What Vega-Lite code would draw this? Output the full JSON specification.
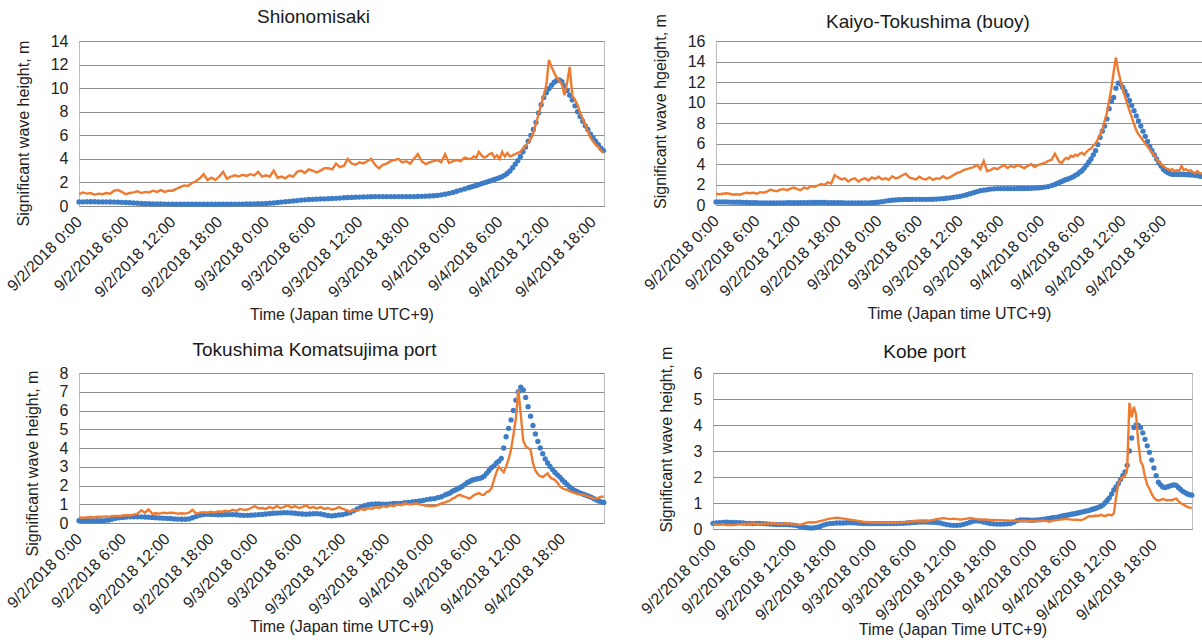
{
"$schema": "https://vega.github.io/schema/vega-lite/v6.json",
"padding": {"left": 3, "top": 7, "right": 0, "bottom": 0},
"spacing": 17,
"config": {
 "font": "Liberation Sans",
 "view": {"stroke": "#bdbdbd"},
 "title": {"font": "Liberation Sans", "fontSize": 19, "fontWeight": "normal", "color": "#1a1a1a", "frame": "group", "anchor": "middle"},
 "axis": {"labelFont": "Liberation Sans", "titleFont": "Liberation Sans", "labelFontSize": 16, "titleFontSize": 16, "titleFontWeight": "normal", "labelColor": "#222222", "titleColor": "#222222", "gridColor": "#8e8e8e", "domainColor": "#8c8c8c", "ticks": false},
 "axisX": {"labelAngle": -45, "labelAlign": "right", "labelBaseline": "middle", "labelPadding": 13, "grid": false, "labelFlush": false, "labelOverlap": false, "titlePadding": 6, "labelExpr": "'9/' + (2 + floor(datum.value / 24)) + '/2018 ' + (datum.value % 24) + ':00'"},
 "axisY": {"domain": false, "grid": true, "labelPadding": 11, "titlePadding": 19}
},
"datasets": {
"shio": [
{"h":0,"o":1.0,"m":0.35},{"h":0.5,"o":1.15,"m":0.35},{"h":1,"o":1.05,"m":0.36},{"h":1.5,"o":1.1,"m":0.36},{"h":2,"o":0.95,"m":0.36},{"h":2.5,"o":1.05,"m":0.35},{"h":3,"o":1.0,"m":0.35},{"h":3.5,"o":1.1,"m":0.35},{"h":4,"o":1.05,"m":0.34},{"h":4.5,"o":1.3,"m":0.33},{"h":5,"o":1.35,"m":0.32},{"h":5.5,"o":1.2,"m":0.31},{"h":6,"o":1.0,"m":0.3},{"h":6.5,"o":1.1,"m":0.28},{"h":7,"o":1.15,"m":0.26},{"h":7.5,"o":1.25,"m":0.24},{"h":8,"o":1.1,"m":0.22},{"h":8.5,"o":1.2,"m":0.2},{"h":9,"o":1.15,"m":0.19},{"h":9.5,"o":1.3,"m":0.18},{"h":10,"o":1.2,"m":0.17},{"h":10.5,"o":1.35,"m":0.17},{"h":11,"o":1.2,"m":0.16},{"h":11.5,"o":1.3,"m":0.16},{"h":12,"o":1.3,"m":0.16},{"h":12.5,"o":1.45,"m":0.15},{"h":13,"o":1.6,"m":0.15},{"h":13.5,"o":1.75,"m":0.15},{"h":14,"o":1.7,"m":0.15},{"h":14.5,"o":1.95,"m":0.15},{"h":15,"o":2.1,"m":0.15},{"h":15.5,"o":2.35,"m":0.15},{"h":16,"o":2.7,"m":0.15},{"h":16.5,"o":2.2,"m":0.15},{"h":17,"o":2.4,"m":0.15},{"h":17.5,"o":2.2,"m":0.15},{"h":18,"o":2.5,"m":0.15},{"h":18.5,"o":2.9,"m":0.15},{"h":19,"o":2.3,"m":0.15},{"h":19.5,"o":2.5,"m":0.16},{"h":20,"o":2.6,"m":0.16},{"h":20.5,"o":2.5,"m":0.16},{"h":21,"o":2.65,"m":0.16},{"h":21.5,"o":2.55,"m":0.17},{"h":22,"o":2.7,"m":0.17},{"h":22.5,"o":2.6,"m":0.18},{"h":23,"o":2.9,"m":0.19},{"h":23.5,"o":2.5,"m":0.2},{"h":24,"o":2.6,"m":0.22},{"h":24.5,"o":2.5,"m":0.24},{"h":25,"o":3.0,"m":0.26},{"h":25.5,"o":2.4,"m":0.3},{"h":26,"o":2.5,"m":0.33},{"h":26.5,"o":2.35,"m":0.37},{"h":27,"o":2.6,"m":0.4},{"h":27.5,"o":2.5,"m":0.43},{"h":28,"o":2.9,"m":0.46},{"h":28.5,"o":3.0,"m":0.5},{"h":29,"o":2.8,"m":0.52},{"h":29.5,"o":3.1,"m":0.55},{"h":30,"o":3.0,"m":0.57},{"h":30.5,"o":2.85,"m":0.58},{"h":31,"o":3.0,"m":0.6},{"h":31.5,"o":3.2,"m":0.61},{"h":32,"o":3.2,"m":0.62},{"h":32.5,"o":3.1,"m":0.64},{"h":33,"o":3.6,"m":0.65},{"h":33.5,"o":3.3,"m":0.67},{"h":34,"o":3.4,"m":0.7},{"h":34.5,"o":4.0,"m":0.72},{"h":35,"o":3.6,"m":0.73},{"h":35.5,"o":3.5,"m":0.75},{"h":36,"o":3.7,"m":0.76},{"h":36.5,"o":3.6,"m":0.77},{"h":37,"o":3.8,"m":0.78},{"h":37.5,"o":4.0,"m":0.79},{"h":38,"o":3.5,"m":0.8},{"h":38.5,"o":3.2,"m":0.8},{"h":39,"o":3.5,"m":0.8},{"h":39.5,"o":3.6,"m":0.8},{"h":40,"o":3.8,"m":0.8},{"h":40.5,"o":3.9,"m":0.8},{"h":41,"o":4.0,"m":0.8},{"h":41.5,"o":3.7,"m":0.8},{"h":42,"o":3.8,"m":0.8},{"h":42.5,"o":3.6,"m":0.8},{"h":43,"o":4.0,"m":0.8},{"h":43.5,"o":4.4,"m":0.81},{"h":44,"o":3.8,"m":0.82},{"h":44.5,"o":3.55,"m":0.83},{"h":45,"o":3.7,"m":0.85},{"h":45.5,"o":3.8,"m":0.87},{"h":46,"o":3.9,"m":0.9},{"h":46.5,"o":3.7,"m":0.95},{"h":47,"o":4.4,"m":1.0},{"h":47.5,"o":3.65,"m":1.08},{"h":48,"o":3.8,"m":1.15},{"h":48.5,"o":3.9,"m":1.25},{"h":49,"o":3.8,"m":1.35},{"h":49.5,"o":4.1,"m":1.45},{"h":50,"o":4.0,"m":1.55},
{"h":50.33,"o":4.0,"m":1.62},{"h":50.67,"o":4.2,"m":1.68},{"h":51,"o":4.1,"m":1.75},{"h":51.33,"o":4.6,"m":1.82},{"h":51.67,"o":4.3,"m":1.9},{"h":52,"o":4.1,"m":1.97},{"h":52.33,"o":4.2,"m":2.03},{"h":52.67,"o":4.4,"m":2.1},{"h":53,"o":4.5,"m":2.18},{"h":53.33,"o":4.1,"m":2.25},{"h":53.67,"o":4.3,"m":2.33},{"h":54,"o":4.0,"m":2.4},{"h":54.33,"o":4.6,"m":2.5},{"h":54.67,"o":4.2,"m":2.62},{"h":55,"o":4.5,"m":2.78},{"h":55.33,"o":4.2,"m":2.98},{"h":55.67,"o":4.3,"m":3.25},{"h":56,"o":4.4,"m":3.55},{"h":56.33,"o":4.5,"m":3.85},{"h":56.67,"o":4.6,"m":4.2},{"h":57,"o":4.9,"m":4.6},{"h":57.33,"o":5.1,"m":5.0},{"h":57.67,"o":5.4,"m":5.5},{"h":58,"o":5.7,"m":6.0},{"h":58.33,"o":6.2,"m":6.5},{"h":58.67,"o":7.0,"m":7.1},{"h":59,"o":7.8,"m":7.9},{"h":59.33,"o":8.6,"m":8.6},{"h":59.67,"o":9.4,"m":9.2},{"h":60,"o":10.3,"m":9.6},{"h":60.33,"o":12.4,"m":9.95},{"h":60.67,"o":11.8,"m":10.25},{"h":61,"o":11.3,"m":10.5},{"h":61.33,"o":10.9,"m":10.65},{"h":61.67,"o":10.6,"m":10.7},{"h":62,"o":10.3,"m":10.55},{"h":62.33,"o":9.4,"m":10.2},{"h":62.67,"o":10.5,"m":9.8},{"h":63,"o":11.8,"m":9.4},{"h":63.33,"o":9.4,"m":9.0},{"h":63.67,"o":9.0,"m":8.5},{"h":64,"o":8.6,"m":8.0},{"h":64.33,"o":7.9,"m":7.6},{"h":64.67,"o":7.4,"m":7.2},{"h":65,"o":6.9,"m":6.8},{"h":65.33,"o":6.3,"m":6.5},{"h":65.67,"o":5.8,"m":6.1},{"h":66,"o":5.5,"m":5.8},{"h":66.33,"o":5.2,"m":5.5},{"h":66.67,"o":5.0,"m":5.2},{"h":67,"o":4.7,"m":4.9},{"h":67.33,"o":4.5,"m":4.7}
],
"kaiyo": [
{"h":0,"o":1.1,"m":0.3},{"h":0.5,"o":1.05,"m":0.3},{"h":1,"o":1.1,"m":0.3},{"h":1.5,"o":1.15,"m":0.3},{"h":2,"o":1.1,"m":0.29},{"h":2.5,"o":1.0,"m":0.28},{"h":3,"o":1.05,"m":0.28},{"h":3.5,"o":1.0,"m":0.27},{"h":4,"o":1.1,"m":0.26},{"h":4.5,"o":1.2,"m":0.25},{"h":5,"o":1.15,"m":0.24},{"h":5.5,"o":1.2,"m":0.23},{"h":6,"o":1.1,"m":0.22},{"h":6.5,"o":1.25,"m":0.21},{"h":7,"o":1.2,"m":0.2},{"h":7.5,"o":1.3,"m":0.2},{"h":8,"o":1.5,"m":0.2},{"h":8.5,"o":1.4,"m":0.2},{"h":9,"o":1.35,"m":0.21},{"h":9.5,"o":1.5,"m":0.21},{"h":10,"o":1.55,"m":0.21},{"h":10.5,"o":1.45,"m":0.22},{"h":11,"o":1.6,"m":0.22},{"h":11.5,"o":1.7,"m":0.22},{"h":12,"o":1.55,"m":0.22},{"h":12.5,"o":1.45,"m":0.23},{"h":13,"o":1.7,"m":0.24},{"h":13.5,"o":1.6,"m":0.24},{"h":14,"o":1.85,"m":0.25},{"h":14.5,"o":1.75,"m":0.25},{"h":15,"o":1.9,"m":0.25},{"h":15.5,"o":2.05,"m":0.25},{"h":16,"o":1.95,"m":0.25},{"h":16.5,"o":2.2,"m":0.24},{"h":17,"o":2.1,"m":0.23},{"h":17.5,"o":2.9,"m":0.23},{"h":18,"o":2.7,"m":0.22},{"h":18.5,"o":2.5,"m":0.22},{"h":19,"o":2.6,"m":0.21},{"h":19.5,"o":2.3,"m":0.21},{"h":20,"o":2.5,"m":0.2},{"h":20.5,"o":2.6,"m":0.2},{"h":21,"o":2.3,"m":0.2},{"h":21.5,"o":2.5,"m":0.2},{"h":22,"o":2.6,"m":0.2},{"h":22.5,"o":2.4,"m":0.21},{"h":23,"o":2.7,"m":0.22},{"h":23.5,"o":2.55,"m":0.25},{"h":24,"o":2.75,"m":0.28},{"h":24.5,"o":2.5,"m":0.32},{"h":25,"o":2.6,"m":0.38},{"h":25.5,"o":2.45,"m":0.43},{"h":26,"o":2.8,"m":0.47},{"h":26.5,"o":2.6,"m":0.5},{"h":27,"o":2.7,"m":0.52},{"h":27.5,"o":2.9,"m":0.53},{"h":28,"o":3.05,"m":0.54},{"h":28.5,"o":2.7,"m":0.54},{"h":29,"o":2.6,"m":0.55},{"h":29.5,"o":2.5,"m":0.55},{"h":30,"o":2.75,"m":0.55},{"h":30.5,"o":2.55,"m":0.55},{"h":31,"o":2.5,"m":0.55},{"h":31.5,"o":2.7,"m":0.55},{"h":32,"o":2.45,"m":0.56},{"h":32.5,"o":2.6,"m":0.58},{"h":33,"o":2.55,"m":0.6},{"h":33.5,"o":2.8,"m":0.63},{"h":34,"o":2.6,"m":0.66},{"h":34.5,"o":2.7,"m":0.7},{"h":35,"o":2.9,"m":0.75},{"h":35.5,"o":3.1,"m":0.8},{"h":36,"o":3.2,"m":0.85},{"h":36.5,"o":3.4,"m":0.92},{"h":37,"o":3.5,"m":1.0},{"h":37.5,"o":3.6,"m":1.1},{"h":38,"o":3.7,"m":1.2},{"h":38.5,"o":3.9,"m":1.3},{"h":39,"o":3.5,"m":1.4},{"h":39.5,"o":4.3,"m":1.45},{"h":40,"o":3.3,"m":1.5},{"h":40.5,"o":3.4,"m":1.55},{"h":41,"o":3.6,"m":1.58},{"h":41.5,"o":3.5,"m":1.6},{"h":42,"o":3.7,"m":1.6},{"h":42.5,"o":3.9,"m":1.6},{"h":43,"o":3.6,"m":1.6},{"h":43.5,"o":3.8,"m":1.6},{"h":44,"o":3.7,"m":1.6},{"h":44.5,"o":3.9,"m":1.61},{"h":45,"o":3.75,"m":1.61},{"h":45.5,"o":3.6,"m":1.62},{"h":46,"o":3.8,"m":1.62},{"h":46.5,"o":4.0,"m":1.63},{"h":47,"o":3.7,"m":1.65},{"h":47.5,"o":3.9,"m":1.67},{"h":48,"o":4.0,"m":1.7},{"h":48.5,"o":4.1,"m":1.75},{"h":49,"o":4.3,"m":1.8},{"h":49.5,"o":4.4,"m":1.9},{"h":50,"o":5.0,"m":2.0},
{"h":50.33,"o":4.6,"m":2.1},{"h":50.67,"o":4.2,"m":2.2},{"h":51,"o":4.1,"m":2.3},{"h":51.33,"o":4.4,"m":2.4},{"h":51.67,"o":4.6,"m":2.5},{"h":52,"o":4.5,"m":2.55},{"h":52.33,"o":4.8,"m":2.65},{"h":52.67,"o":4.7,"m":2.75},{"h":53,"o":4.9,"m":2.9},{"h":53.33,"o":4.8,"m":3.0},{"h":53.67,"o":5.0,"m":3.2},{"h":54,"o":5.1,"m":3.35},{"h":54.33,"o":4.9,"m":3.6},{"h":54.67,"o":5.2,"m":3.9},{"h":55,"o":5.4,"m":4.2},{"h":55.33,"o":5.5,"m":4.5},{"h":55.67,"o":5.8,"m":4.9},{"h":56,"o":6.0,"m":5.3},{"h":56.33,"o":6.4,"m":5.9},{"h":56.67,"o":6.9,"m":6.6},{"h":57,"o":7.3,"m":7.2},{"h":57.33,"o":8.2,"m":7.7},{"h":57.67,"o":9.0,"m":8.4},{"h":58,"o":10.2,"m":9.4},{"h":58.33,"o":11.4,"m":10.1},{"h":58.67,"o":13.0,"m":10.5},{"h":59,"o":14.4,"m":11.4},{"h":59.33,"o":13.1,"m":11.9},{"h":59.67,"o":12.2,"m":11.8},{"h":60,"o":11.3,"m":11.5},{"h":60.33,"o":10.6,"m":11.1},{"h":60.67,"o":9.9,"m":10.7},{"h":61,"o":9.2,"m":10.2},{"h":61.33,"o":8.6,"m":9.7},{"h":61.67,"o":7.9,"m":9.2},{"h":62,"o":7.3,"m":8.7},{"h":62.33,"o":6.9,"m":8.2},{"h":62.67,"o":6.6,"m":7.7},{"h":63,"o":6.3,"m":7.2},{"h":63.33,"o":6.0,"m":6.7},{"h":63.67,"o":5.7,"m":6.2},{"h":64,"o":5.4,"m":5.7},{"h":64.33,"o":5.1,"m":5.3},{"h":64.67,"o":4.8,"m":4.9},{"h":65,"o":4.5,"m":4.5},{"h":65.33,"o":4.2,"m":4.1},{"h":65.67,"o":4.0,"m":3.8},{"h":66,"o":3.8,"m":3.5},{"h":66.33,"o":3.6,"m":3.3},{"h":66.67,"o":3.5,"m":3.15},{"h":67,"o":3.4,"m":3.05},{"h":67.33,"o":3.5,"m":3.0},{"h":67.67,"o":3.3,"m":3.0},{"h":68,"o":3.4,"m":3.0},{"h":68.33,"o":3.3,"m":3.0},{"h":68.67,"o":3.8,"m":3.0},{"h":69,"o":3.4,"m":2.98},{"h":69.33,"o":3.5,"m":2.97},{"h":69.67,"o":3.3,"m":2.96},{"h":70,"o":3.4,"m":2.95},{"h":70.33,"o":3.2,"m":2.93},{"h":70.67,"o":3.1,"m":2.9},{"h":71,"o":3.3,"m":2.87},{"h":71.33,"o":3.1,"m":2.83},{"h":71.67,"o":3.1,"m":2.8}
],
"koma": [
{"h":0,"o":0.3,"m":0.12},{"h":0.5,"o":0.28,"m":0.12},{"h":1,"o":0.3,"m":0.12},{"h":1.5,"o":0.32,"m":0.12},{"h":2,"o":0.3,"m":0.12},{"h":2.5,"o":0.33,"m":0.12},{"h":3,"o":0.32,"m":0.12},{"h":3.5,"o":0.35,"m":0.13},{"h":4,"o":0.33,"m":0.15},{"h":4.5,"o":0.36,"m":0.2},{"h":5,"o":0.38,"m":0.25},{"h":5.5,"o":0.37,"m":0.28},{"h":6,"o":0.4,"m":0.3},{"h":6.5,"o":0.42,"m":0.32},{"h":7,"o":0.4,"m":0.33},{"h":7.5,"o":0.45,"m":0.33},{"h":8,"o":0.5,"m":0.33},{"h":8.5,"o":0.68,"m":0.33},{"h":9,"o":0.55,"m":0.32},{"h":9.5,"o":0.72,"m":0.31},{"h":10,"o":0.5,"m":0.3},{"h":10.5,"o":0.52,"m":0.28},{"h":11,"o":0.5,"m":0.27},{"h":11.5,"o":0.55,"m":0.26},{"h":12,"o":0.52,"m":0.25},{"h":12.5,"o":0.55,"m":0.24},{"h":13,"o":0.53,"m":0.22},{"h":13.5,"o":0.5,"m":0.21},{"h":14,"o":0.52,"m":0.2},{"h":14.5,"o":0.5,"m":0.2},{"h":15,"o":0.55,"m":0.22},{"h":15.5,"o":0.7,"m":0.28},{"h":16,"o":0.5,"m":0.35},{"h":16.5,"o":0.55,"m":0.42},{"h":17,"o":0.58,"m":0.45},{"h":17.5,"o":0.55,"m":0.47},{"h":18,"o":0.6,"m":0.46},{"h":18.5,"o":0.57,"m":0.45},{"h":19,"o":0.62,"m":0.44},{"h":19.5,"o":0.6,"m":0.44},{"h":20,"o":0.65,"m":0.45},{"h":20.5,"o":0.62,"m":0.46},{"h":21,"o":0.7,"m":0.45},{"h":21.5,"o":0.65,"m":0.44},{"h":22,"o":0.75,"m":0.42},{"h":22.5,"o":0.7,"m":0.41},{"h":23,"o":0.72,"m":0.41},{"h":23.5,"o":0.8,"m":0.42},{"h":24,"o":0.9,"m":0.43},{"h":24.5,"o":0.78,"m":0.45},{"h":25,"o":0.8,"m":0.46},{"h":25.5,"o":0.75,"m":0.48},{"h":26,"o":0.85,"m":0.5},{"h":26.5,"o":0.78,"m":0.52},{"h":27,"o":0.9,"m":0.53},{"h":27.5,"o":0.8,"m":0.54},{"h":28,"o":0.85,"m":0.55},{"h":28.5,"o":0.95,"m":0.55},{"h":29,"o":0.82,"m":0.54},{"h":29.5,"o":0.9,"m":0.52},{"h":30,"o":0.8,"m":0.5},{"h":30.5,"o":0.85,"m":0.48},{"h":31,"o":0.95,"m":0.47},{"h":31.5,"o":0.8,"m":0.48},{"h":32,"o":0.85,"m":0.5},{"h":32.5,"o":0.78,"m":0.5},{"h":33,"o":0.85,"m":0.48},{"h":33.5,"o":0.75,"m":0.44},{"h":34,"o":0.8,"m":0.4},{"h":34.5,"o":0.72,"m":0.38},{"h":35,"o":0.75,"m":0.4},{"h":35.5,"o":0.85,"m":0.43},{"h":36,"o":0.75,"m":0.45},{"h":36.5,"o":0.7,"m":0.5},{"h":37,"o":0.6,"m":0.55},{"h":37.5,"o":0.7,"m":0.65},{"h":38,"o":0.65,"m":0.75},{"h":38.5,"o":0.75,"m":0.85},{"h":39,"o":0.7,"m":0.93},{"h":39.5,"o":0.8,"m":0.98},{"h":40,"o":0.75,"m":1.0},{"h":40.5,"o":0.85,"m":1.02},{"h":41,"o":0.8,"m":1.02},{"h":41.5,"o":0.9,"m":1.0},{"h":42,"o":0.85,"m":1.0},{"h":42.5,"o":0.95,"m":1.02},{"h":43,"o":0.9,"m":1.05},{"h":43.5,"o":1.0,"m":1.05},{"h":44,"o":0.95,"m":1.05},{"h":44.5,"o":1.05,"m":1.08},{"h":45,"o":1.0,"m":1.1},{"h":45.5,"o":1.0,"m":1.12},{"h":46,"o":1.05,"m":1.15},{"h":46.5,"o":1.0,"m":1.18},{"h":47,"o":0.95,"m":1.2},{"h":47.5,"o":0.9,"m":1.25},{"h":48,"o":0.92,"m":1.28},{"h":48.5,"o":0.9,"m":1.3},{"h":49,"o":0.95,"m":1.35},{"h":49.5,"o":1.05,"m":1.4},{"h":50,"o":1.1,"m":1.5},
{"h":50.33,"o":1.15,"m":1.55},{"h":50.67,"o":1.2,"m":1.6},{"h":51,"o":1.3,"m":1.7},{"h":51.33,"o":1.35,"m":1.75},{"h":51.67,"o":1.45,"m":1.82},{"h":52,"o":1.5,"m":1.88},{"h":52.33,"o":1.45,"m":1.95},{"h":52.67,"o":1.4,"m":2.05},{"h":53,"o":1.35,"m":2.15},{"h":53.33,"o":1.3,"m":2.22},{"h":53.67,"o":1.4,"m":2.28},{"h":54,"o":1.5,"m":2.32},{"h":54.33,"o":1.55,"m":2.35},{"h":54.67,"o":1.6,"m":2.38},{"h":55,"o":1.5,"m":2.42},{"h":55.33,"o":1.5,"m":2.5},{"h":55.67,"o":1.65,"m":2.65},{"h":56,"o":1.7,"m":2.8},{"h":56.33,"o":1.85,"m":2.95},{"h":56.67,"o":2.3,"m":3.05},{"h":57,"o":2.7,"m":3.2},{"h":57.33,"o":3.0,"m":3.3},{"h":57.67,"o":2.85,"m":3.45},{"h":58,"o":2.7,"m":4.0},{"h":58.33,"o":3.0,"m":4.6},{"h":58.67,"o":3.4,"m":5.05},{"h":59,"o":3.9,"m":5.5},{"h":59.33,"o":4.7,"m":6.0},{"h":59.67,"o":5.6,"m":6.55},{"h":60,"o":7.1,"m":7.0},{"h":60.33,"o":5.8,"m":7.25},{"h":60.67,"o":4.4,"m":7.1},{"h":61,"o":4.1,"m":6.7},{"h":61.33,"o":4.0,"m":6.2},{"h":61.67,"o":3.9,"m":5.7},{"h":62,"o":3.2,"m":5.2},{"h":62.33,"o":2.8,"m":4.75},{"h":62.67,"o":2.6,"m":4.35},{"h":63,"o":2.5,"m":4.0},{"h":63.33,"o":2.45,"m":3.7},{"h":63.67,"o":2.55,"m":3.42},{"h":64,"o":2.65,"m":3.2},{"h":64.33,"o":2.45,"m":3.02},{"h":64.67,"o":2.35,"m":2.85},{"h":65,"o":2.3,"m":2.7},{"h":65.33,"o":2.15,"m":2.57},{"h":65.67,"o":1.95,"m":2.45},{"h":66,"o":1.85,"m":2.3},{"h":66.33,"o":1.8,"m":2.18},{"h":66.67,"o":1.75,"m":2.05},{"h":67,"o":1.7,"m":1.92},{"h":67.33,"o":1.65,"m":1.82},{"h":67.67,"o":1.6,"m":1.74},{"h":68,"o":1.55,"m":1.68},{"h":68.33,"o":1.55,"m":1.62},{"h":68.67,"o":1.5,"m":1.57},{"h":69,"o":1.5,"m":1.52},{"h":69.33,"o":1.45,"m":1.47},{"h":69.67,"o":1.4,"m":1.42},{"h":70,"o":1.35,"m":1.37},{"h":70.33,"o":1.3,"m":1.3},{"h":70.67,"o":1.3,"m":1.23},{"h":71,"o":1.35,"m":1.18},{"h":71.33,"o":1.4,"m":1.13},{"h":71.67,"o":1.4,"m":1.1}
],
"kobe": [
{"h":0,"o":0.18,"m":0.22},{"h":0.5,"o":0.17,"m":0.23},{"h":1,"o":0.16,"m":0.24},{"h":1.5,"o":0.18,"m":0.25},{"h":2,"o":0.15,"m":0.26},{"h":2.5,"o":0.16,"m":0.25},{"h":3,"o":0.15,"m":0.25},{"h":3.5,"o":0.17,"m":0.24},{"h":4,"o":0.18,"m":0.24},{"h":4.5,"o":0.2,"m":0.23},{"h":5,"o":0.19,"m":0.22},{"h":5.5,"o":0.2,"m":0.22},{"h":6,"o":0.21,"m":0.21},{"h":6.5,"o":0.2,"m":0.22},{"h":7,"o":0.19,"m":0.22},{"h":7.5,"o":0.2,"m":0.21},{"h":8,"o":0.2,"m":0.2},{"h":8.5,"o":0.21,"m":0.19},{"h":9,"o":0.22,"m":0.18},{"h":9.5,"o":0.2,"m":0.17},{"h":10,"o":0.19,"m":0.17},{"h":10.5,"o":0.2,"m":0.17},{"h":11,"o":0.22,"m":0.17},{"h":11.5,"o":0.2,"m":0.16},{"h":12,"o":0.18,"m":0.15},{"h":12.5,"o":0.17,"m":0.13},{"h":13,"o":0.16,"m":0.1},{"h":13.5,"o":0.2,"m":0.07},{"h":14,"o":0.24,"m":0.05},{"h":14.5,"o":0.26,"m":0.04},{"h":15,"o":0.25,"m":0.04},{"h":15.5,"o":0.27,"m":0.06},{"h":16,"o":0.3,"m":0.1},{"h":16.5,"o":0.33,"m":0.15},{"h":17,"o":0.37,"m":0.19},{"h":17.5,"o":0.4,"m":0.21},{"h":18,"o":0.42,"m":0.22},{"h":18.5,"o":0.43,"m":0.23},{"h":19,"o":0.42,"m":0.23},{"h":19.5,"o":0.4,"m":0.23},{"h":20,"o":0.38,"m":0.24},{"h":20.5,"o":0.36,"m":0.24},{"h":21,"o":0.34,"m":0.24},{"h":21.5,"o":0.32,"m":0.23},{"h":22,"o":0.3,"m":0.22},{"h":22.5,"o":0.28,"m":0.21},{"h":23,"o":0.27,"m":0.21},{"h":23.5,"o":0.26,"m":0.21},{"h":24,"o":0.25,"m":0.21},{"h":24.5,"o":0.25,"m":0.21},{"h":25,"o":0.24,"m":0.21},{"h":25.5,"o":0.24,"m":0.21},{"h":26,"o":0.25,"m":0.21},{"h":26.5,"o":0.24,"m":0.21},{"h":27,"o":0.23,"m":0.21},{"h":27.5,"o":0.24,"m":0.21},{"h":28,"o":0.25,"m":0.22},{"h":28.5,"o":0.26,"m":0.22},{"h":29,"o":0.27,"m":0.23},{"h":29.5,"o":0.28,"m":0.24},{"h":30,"o":0.3,"m":0.25},{"h":30.5,"o":0.31,"m":0.26},{"h":31,"o":0.3,"m":0.27},{"h":31.5,"o":0.29,"m":0.27},{"h":32,"o":0.3,"m":0.27},{"h":32.5,"o":0.32,"m":0.26},{"h":33,"o":0.35,"m":0.26},{"h":33.5,"o":0.38,"m":0.25},{"h":34,"o":0.4,"m":0.23},{"h":34.5,"o":0.42,"m":0.2},{"h":35,"o":0.4,"m":0.17},{"h":35.5,"o":0.38,"m":0.15},{"h":36,"o":0.4,"m":0.14},{"h":36.5,"o":0.38,"m":0.14},{"h":37,"o":0.36,"m":0.15},{"h":37.5,"o":0.38,"m":0.18},{"h":38,"o":0.4,"m":0.22},{"h":38.5,"o":0.42,"m":0.26},{"h":39,"o":0.4,"m":0.3},{"h":39.5,"o":0.38,"m":0.31},{"h":40,"o":0.36,"m":0.3},{"h":40.5,"o":0.37,"m":0.27},{"h":41,"o":0.36,"m":0.24},{"h":41.5,"o":0.35,"m":0.21},{"h":42,"o":0.35,"m":0.2},{"h":42.5,"o":0.34,"m":0.19},{"h":43,"o":0.34,"m":0.19},{"h":43.5,"o":0.33,"m":0.19},{"h":44,"o":0.33,"m":0.2},{"h":44.5,"o":0.32,"m":0.21},{"h":45,"o":0.32,"m":0.26},{"h":45.5,"o":0.31,"m":0.32},{"h":46,"o":0.31,"m":0.35},{"h":46.5,"o":0.32,"m":0.35},{"h":47,"o":0.3,"m":0.35},{"h":47.5,"o":0.31,"m":0.34},{"h":48,"o":0.3,"m":0.34},{"h":48.5,"o":0.31,"m":0.35},{"h":49,"o":0.32,"m":0.36},{"h":49.5,"o":0.33,"m":0.38},{"h":50,"o":0.3,"m":0.4},
{"h":50.33,"o":0.28,"m":0.41},{"h":50.67,"o":0.3,"m":0.43},{"h":51,"o":0.32,"m":0.44},{"h":51.33,"o":0.34,"m":0.45},{"h":51.67,"o":0.35,"m":0.46},{"h":52,"o":0.36,"m":0.48},{"h":52.33,"o":0.37,"m":0.5},{"h":52.67,"o":0.38,"m":0.52},{"h":53,"o":0.38,"m":0.53},{"h":53.33,"o":0.37,"m":0.55},{"h":53.67,"o":0.36,"m":0.57},{"h":54,"o":0.35,"m":0.58},{"h":54.33,"o":0.36,"m":0.6},{"h":54.67,"o":0.35,"m":0.62},{"h":55,"o":0.34,"m":0.64},{"h":55.33,"o":0.36,"m":0.66},{"h":55.67,"o":0.4,"m":0.68},{"h":56,"o":0.45,"m":0.7},{"h":56.33,"o":0.5,"m":0.72},{"h":56.67,"o":0.48,"m":0.75},{"h":57,"o":0.5,"m":0.77},{"h":57.33,"o":0.52,"m":0.8},{"h":57.67,"o":0.5,"m":0.83},{"h":58,"o":0.55,"m":0.87},{"h":58.33,"o":0.52,"m":0.92},{"h":58.67,"o":0.5,"m":1.0},{"h":59,"o":0.53,"m":1.1},{"h":59.33,"o":0.55,"m":1.2},{"h":59.67,"o":0.52,"m":1.35},{"h":60,"o":0.6,"m":1.5},{"h":60.33,"o":1.2,"m":1.62},{"h":60.67,"o":1.75,"m":1.75},{"h":61,"o":1.9,"m":1.9},{"h":61.33,"o":2.0,"m":2.05},{"h":61.67,"o":2.05,"m":2.2},{"h":62,"o":2.3,"m":2.45},{"h":62.33,"o":4.85,"m":3.0},{"h":62.67,"o":4.3,"m":3.5},{"h":63,"o":4.7,"m":3.9},{"h":63.33,"o":4.4,"m":4.0},{"h":63.67,"o":3.3,"m":3.98},{"h":64,"o":2.6,"m":3.9},{"h":64.33,"o":2.45,"m":3.7},{"h":64.67,"o":2.0,"m":3.45},{"h":65,"o":1.7,"m":3.2},{"h":65.33,"o":1.55,"m":2.95},{"h":65.67,"o":1.35,"m":2.65},{"h":66,"o":1.2,"m":2.35},{"h":66.33,"o":1.12,"m":2.05},{"h":66.67,"o":1.1,"m":1.8},{"h":67,"o":1.12,"m":1.7},{"h":67.33,"o":1.15,"m":1.62},{"h":67.67,"o":1.13,"m":1.6},{"h":68,"o":1.1,"m":1.62},{"h":68.33,"o":1.12,"m":1.65},{"h":68.67,"o":1.1,"m":1.68},{"h":69,"o":1.15,"m":1.7},{"h":69.33,"o":1.17,"m":1.68},{"h":69.67,"o":1.08,"m":1.6},{"h":70,"o":1.0,"m":1.52},{"h":70.33,"o":0.95,"m":1.45},{"h":70.67,"o":0.9,"m":1.4},{"h":71,"o":0.85,"m":1.35},{"h":71.33,"o":0.82,"m":1.32},{"h":71.67,"o":0.8,"m":1.3}
]
},
"vconcat": [
 {"spacing": 31, "hconcat": [
  {"width": 525, "height": 165, "title": {"text": "Shionomisaki", "offset": 6, "dx": -28}, "data": {"name": "shio"},
   "encoding": {"x": {"field": "h", "type": "quantitative", "scale": {"domain": [0, 67.4], "nice": false, "zero": false}, "axis": {"title": "Time (Japan time UTC+9)", "values": [0,6,12,18,24,30,36,42,48,54,60,66]}}},
   "layer": [
    {"mark": {"type": "circle", "size": 28, "color": "#3d7cc6", "opacity": 1}, "encoding": {"y": {"field": "m", "type": "quantitative", "title": "Significant wave height, m", "scale": {"domain": [0, 14], "nice": false}, "axis": {"values": [0,2,4,6,8,10,12,14], "titleY": 92}}}},
    {"mark": {"type": "line", "color": "#ee7b30", "strokeWidth": 2.4}, "encoding": {"y": {"field": "o", "type": "quantitative", "title": "Significant wave height, m", "axis": {"values": [0,2,4,6,8,10,12,14], "titleY": 92}}}}
   ]},
  {"width": 486, "height": 164, "title": {"text": "Kaiyo-Tokushima (buoy)", "offset": -18, "dx": -31}, "data": {"name": "kaiyo"},
   "encoding": {"x": {"field": "h", "type": "quantitative", "scale": {"domain": [0, 71.7], "nice": false, "zero": false}, "axis": {"title": "Time (Japan time UTC+9)", "values": [0,6,12,18,24,30,36,42,48,54,60,66]}}},
   "layer": [
    {"mark": {"type": "circle", "size": 28, "color": "#3d7cc6", "opacity": 1}, "encoding": {"y": {"field": "m", "type": "quantitative", "title": "Significant wave hgeight, m", "scale": {"domain": [0, 16], "nice": false}, "axis": {"values": [0,2,4,6,8,10,12,14,16], "titleY": 70}}}},
    {"mark": {"type": "line", "color": "#ee7b30", "strokeWidth": 2.4}, "encoding": {"y": {"field": "o", "type": "quantitative", "title": "Significant wave hgeight, m", "axis": {"values": [0,2,4,6,8,10,12,14,16], "titleY": 70}}}}
   ]}
 ]},
 {"spacing": 27, "hconcat": [
  {"width": 525, "height": 150, "title": {"text": "Tokushima Komatsujima port", "offset": 5, "dx": -27}, "data": {"name": "koma"},
   "encoding": {"x": {"field": "h", "type": "quantitative", "scale": {"domain": [0, 71.7], "nice": false, "zero": false}, "axis": {"title": "Time (Japan time UTC+9)", "titlePadding": 1, "values": [0,6,12,18,24,30,36,42,48,54,60,66]}}},
   "layer": [
    {"mark": {"type": "circle", "size": 28, "color": "#3d7cc6", "opacity": 1}, "encoding": {"y": {"field": "m", "type": "quantitative", "title": "Significant wave height, m", "scale": {"domain": [0, 8], "nice": false}, "axis": {"values": [0,1,2,3,4,5,6,7,8], "titleY": 90}}}},
    {"mark": {"type": "line", "color": "#ee7b30", "strokeWidth": 2.4}, "encoding": {"y": {"field": "o", "type": "quantitative", "title": "Significant wave height, m", "axis": {"values": [0,1,2,3,4,5,6,7,8], "titleY": 90}}}}
   ]},
  {"width": 479, "height": 156, "title": {"text": "Kobe port", "offset": -16, "dx": -28}, "data": {"name": "kobe"},
   "encoding": {"x": {"field": "h", "type": "quantitative", "scale": {"domain": [0, 71.7], "nice": false, "zero": false}, "axis": {"title": "Time (Japan Time UTC+9)", "titlePadding": -2, "values": [0,6,12,18,24,30,36,42,48,54,60,66]}}},
   "layer": [
    {"mark": {"type": "circle", "size": 28, "color": "#3d7cc6", "opacity": 1}, "encoding": {"y": {"field": "m", "type": "quantitative", "title": "Significant wave height, m", "scale": {"domain": [0, 6], "nice": false}, "axis": {"values": [0,1,2,3,4,5,6], "titleY": 66}}}},
    {"mark": {"type": "line", "color": "#ee7b30", "strokeWidth": 2.4}, "encoding": {"y": {"field": "o", "type": "quantitative", "title": "Significant wave height, m", "axis": {"values": [0,1,2,3,4,5,6], "titleY": 66}}}}
   ]}
 ]}
]
}
